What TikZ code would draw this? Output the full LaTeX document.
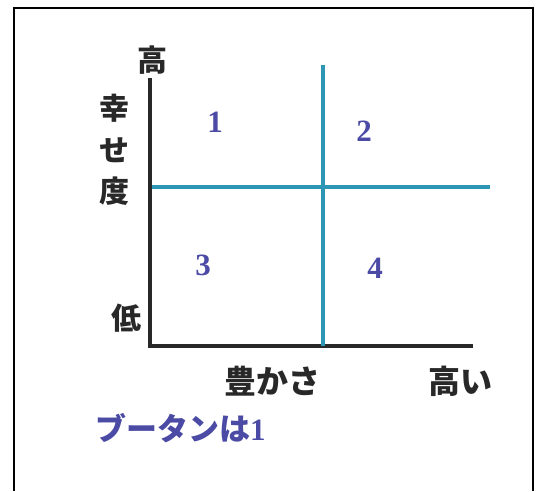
\documentclass[tikz,border=0pt]{standalone}
\usepackage{fontspec}
\newfontfamily\jpfont{Noto Sans CJK JP}
\newfontfamily\numfont{Liberation Serif}
\definecolor{axiscol}{RGB}{40,40,40}
\definecolor{cyanline}{RGB}{45,150,180}
\definecolor{numcol}{RGB}{75,75,165}
\begin{document}
\begin{tikzpicture}[x=1pt,y=-1pt,
  axis/.style={line width=3.4pt,draw=axiscol},
  divline/.style={line width=3.6pt,draw=cyanline},
  lbl/.style={font=\jpfont\fontsize{30}{30}\selectfont\bfseries,text=axiscol,inner sep=0pt},
  blbl/.style={font=\jpfont\fontsize{32}{32}\selectfont\bfseries,text=axiscol,inner sep=0pt},
  num/.style={font=\numfont\fontsize{31}{31}\selectfont\bfseries,text=numcol,inner sep=0pt},
  note/.style={font=\jpfont\fontsize{31}{31}\selectfont\bfseries,text=numcol,inner sep=0pt}]
\useasboundingbox (0,0) rectangle (539,491);
\fill[white] (0,0) rectangle (539,491);
\draw[line width=2.4pt,black] (14,491) -- (14,8) -- (533,8) -- (533,491);
% axes
\coordinate (ytop) at (150,78);
\coordinate (origin) at (150,346);
\coordinate (xend) at (473,346);
\draw[axis] (ytop) -- (origin) -- (xend);
% dividing lines
\coordinate (vtop) at (323,65);
\coordinate (vbot) at (323,346);
\coordinate (hleft) at (152,187);
\coordinate (hright) at (490,187);
\draw[divline] (vtop) -- (vbot);
\draw[divline] (hleft) -- (hright);
% labels
\node[lbl] (hi) at (152,60) {高};
\node[lbl] (k1) at (114,108) {幸};
\node[lbl] (k2) at (114,150) {せ};
\node[lbl] (k3) at (114,191) {度};
\node[lbl] (lo) at (126,318) {低};
\node[blbl] (rich) at (272,381) {豊かさ};
\node[blbl] (high) at (460,381) {高い};
% quadrant numbers
\node[num] (q1) at (215,122) {1};
\node[num] (q2) at (364,131) {2};
\node[num] (q3) at (203,265) {3};
\node[num] (q4) at (375,268) {4};
% note
\node[note,anchor=west] (bt) at (95,428) {ブータンは{\numfont\bfseries 1}};
\end{tikzpicture}
\end{document}
